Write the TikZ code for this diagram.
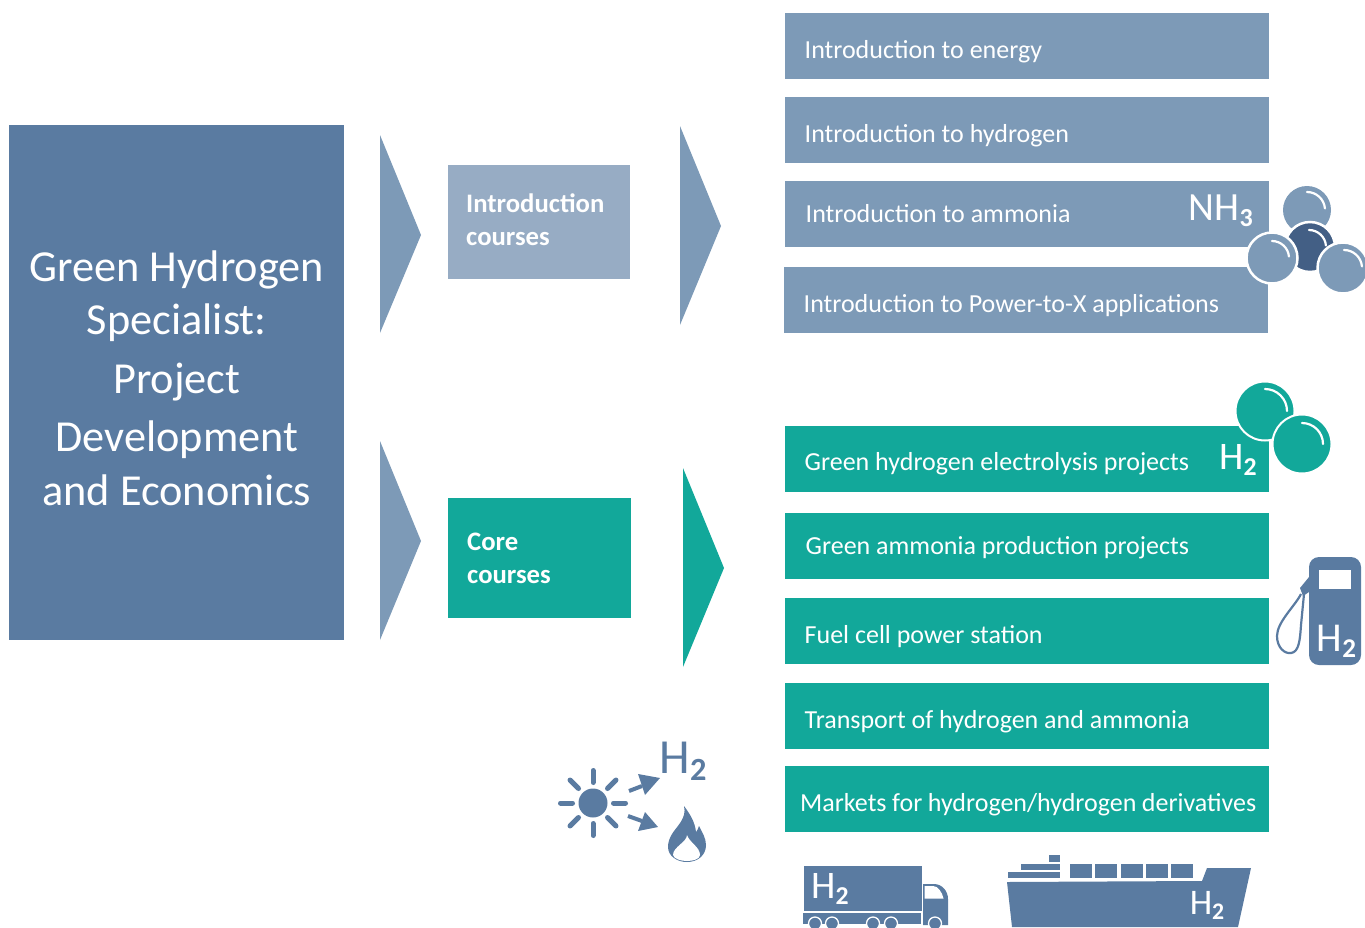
\documentclass[tikz,border=0pt]{standalone}
\usepackage{fontspec}
\setmainfont{Carlito}
\definecolor{bluedark}{HTML}{5A7BA1}
\definecolor{bluemid}{HTML}{7D9AB7}
\definecolor{bluelight}{HTML}{97ACC4}
\definecolor{tealc}{HTML}{12A89A}
\definecolor{ballc}{HTML}{435F85}
\newcommand{\Htwo}{H\raisebox{-0.14em}{\fontsize{0.66em}{1em}\selectfont\bfseries 2}}
\tikzset{
  x=1pt,y=-1pt,
  barbase/.style={anchor=north west,minimum height=66pt,minimum width=484pt,text width=445pt,inner xsep=19pt,inner ysep=0pt,align=flush left,text=white,text height=24pt,text depth=0pt,font=\fontsize{26}{30}\selectfont},
  barblue/.style={barbase,fill=bluemid},
  barteal/.style={barbase,fill=tealc},
  chev/.style={fill=bluemid},
  hl/.style={draw=white,line width=2.2pt,line cap=round},
  ico/.style={fill=bluedark},
  sym/.style={text=white,inner sep=0pt},
}
\begin{document}
\begin{tikzpicture}
\useasboundingbox (0,0) rectangle (1365,927);
% main box
\node[anchor=north west,fill=bluedark,minimum width=335pt,minimum height=515pt,inner sep=0pt] (main) at (9,125) {};
\node[align=flush center,text=white,inner sep=0pt,font=\fontsize{44.3}{53}\selectfont] (maintext) at (176.8,378)
 {Green Hydrogen\\Specialist:\\[6pt]Project\\[5pt]Development\\[1pt]and Economics};
% chevrons
\fill[chev] (380,135) -- (421,235) -- (380,333) -- cycle;
\fill[chev] (680,126) -- (721,226) -- (680,325) -- cycle;
\fill[chev] (380,441) -- (421,541) -- (380,640) -- cycle;
\fill[tealc] (683,468) -- (724,568) -- (683,667) -- cycle;
% category boxes
\node[anchor=north west,fill=bluelight,minimum width=182pt,minimum height=114pt,text width=146pt,inner xsep=18pt,inner ysep=0pt,align=flush left,text=white,text depth=39pt,font=\fontsize{26.7}{33}\selectfont\bfseries] (intro) at (448,165) {Introduction\\courses};
\node[anchor=north west,fill=tealc,minimum width=183pt,minimum height=120pt,text width=145pt,inner xsep=19pt,inner ysep=0pt,align=flush left,text=white,font=\fontsize{26.7}{33}\selectfont\bfseries] (core) at (448,498) {Core\\courses};
% bars
\node[barblue] (b1) at (785,13) {Introduction to energy};
\node[barblue] (b2) at (785,97) {Introduction to hydrogen};
\node[barblue,text height=16pt] (b3) at (785,181) {\hspace*{1pt}Introduction to ammonia};
\node[barblue] (b4) at (784,267) {Introduction to Power-to-X applications};
\node[barteal,text height=22pt] (t1) at (785,426) {Green hydrogen electrolysis projects};
\node[barteal,text height=16pt] (t2) at (785,513) {\hspace*{1pt}Green ammonia production projects};
\node[barteal] (t3) at (785,598) {Fuel cell power station};
\node[barteal] (t4) at (785,683) {Transport of hydrogen and ammonia};
\node[barteal,inner xsep=13pt,text width=458pt] (t5) at (785,766) {\hspace*{2pt}Markets for hydrogen/hydrogen derivatives};
% NH3 molecule
\node[sym,anchor=east,font=\fontsize{40}{40}\selectfont] (nh3) at (1253,211) {NH\raisebox{-0.14em}{\fontsize{26}{26}\selectfont\bfseries 3}};
\fill[bluemid] (1307,210) circle (24);
\draw[hl] (1307,192) arc (-90:-5:18);
\fill[ballc,draw=white,line width=2.5pt] (1310,247) circle (25);
\draw[hl] (1309,230) arc (-90:-5:17);
\fill[bluemid,draw=white,line width=2.5pt] (1272,258) circle (25.5);
\draw[hl] (1272,241) arc (-90:-5:17);
\fill[bluemid,draw=white,line width=2.5pt] (1343,268) circle (25.5);
\draw[hl] (1344,250) arc (-90:-5:18);
% H2 molecule
\node[sym,anchor=west,font=\fontsize{39}{39}\selectfont] (h2a) at (1219,460) {\Htwo};
\fill[tealc,draw=white,line width=2pt] (1265,411) circle (29.5);
\draw[hl] (1265,389) arc (-90:0:22);
\fill[tealc,draw=white,line width=2pt] (1302,444) circle (29.5);
\draw[hl] (1302,423) arc (-90:0:21);
% fuel pump
\fill[ico,rounded corners=10pt] (1309,557) rectangle (1361,665);
\fill[white] (1319,570) rectangle (1351,589);
\node[sym,font=\fontsize{41}{41}\selectfont] (h2b) at (1336.5,641) {\Htwo};
\fill[ico] (1309,577) -- (1300,588) -- (1303,596) -- (1309,592) -- cycle;
\draw[bluedark,line width=2.2pt] (1301,594) .. controls (1295,606) and (1277,622) .. (1277,636)
  .. controls (1277,648) and (1285,654) .. (1291,653)
  .. controls (1299,652) and (1300,640) .. (1301,625) -- (1304,594);
% sun
\fill[ico] (593,803) circle (14.5);
\foreach \a in {0,45,...,315}
  \draw[bluedark,line width=5pt,line cap=round] (593,803) ++(\a:20.5) -- ++(\a:12);
\draw[bluedark,line width=4pt] (629,791) -- (642,786);
\fill[ico] (660,778) -- (638,774) -- (645,795) -- cycle;
\draw[bluedark,line width=4pt] (628,816) -- (642,821);
\fill[ico] (658,827) -- (645,812) -- (638,831) -- cycle;
\node[inner sep=0pt,text=bluedark,font=\fontsize{49}{49}\selectfont] (h2c) at (683,761) {\Htwo};
% flame
\fill[ico] (684,806) .. controls (687,818) and (677,826) .. (672,834)
  .. controls (669,839) and (668,843) .. (668,847)
  .. controls (668,856) and (677,862) .. (687,862)
  .. controls (698,862) and (706,855) .. (706,845)
  .. controls (706,838) and (702,832) .. (699,826)
  .. controls (698,829) and (697,831) .. (696,832)
  .. controls (695,822) and (690,814) .. (684,806) -- cycle;
\fill[white] (687,835) .. controls (687,842) and (673,847) .. (673,855)
  .. controls (674,859) and (681,861) .. (687,861)
  .. controls (693,861) and (700,859) .. (700,855)
  .. controls (700,847) and (689,842) .. (687,835) -- cycle;
% truck
\fill[ico] (804,866) rectangle (922,911);
\node[sym,anchor=west,font=\fontsize{39}{39}\selectfont] (h2d) at (811,889) {\Htwo};
\fill[ico] (803,913) rectangle (921,923.5);
\fill[ico] (923,884) -- (934,884) .. controls (942,884) and (948,891) .. (948,899) -- (948,925) -- (923,925) -- cycle;
\fill[white] (924.5,886) -- (933,886) .. controls (938,886) and (942,892) .. (943.5,898.5) -- (924.5,898.5) -- cycle;
\foreach \w in {815,832,873,891,935}
  \fill[ico,draw=white,line width=1.3pt] (\w,923.5) circle (6.5);
% ship
\fill[ico] (1007,882) -- (1202,881) -- (1207,868) -- (1251,868) -- (1238,927) -- (1012,927) -- cycle;
\fill[ico] (1008,872) rectangle (1060,878);
\fill[ico] (1021,864) rectangle (1060,870);
\fill[ico] (1049,855) rectangle (1060,862);
\foreach \c in {1070,1095,1121,1146,1171}
  \fill[ico] (\c,864) rectangle ++(22,14);
\node[sym,font=\fontsize{36}{36}\selectfont] (h2e) at (1207,905) {\Htwo};
\end{tikzpicture}
\end{document}
